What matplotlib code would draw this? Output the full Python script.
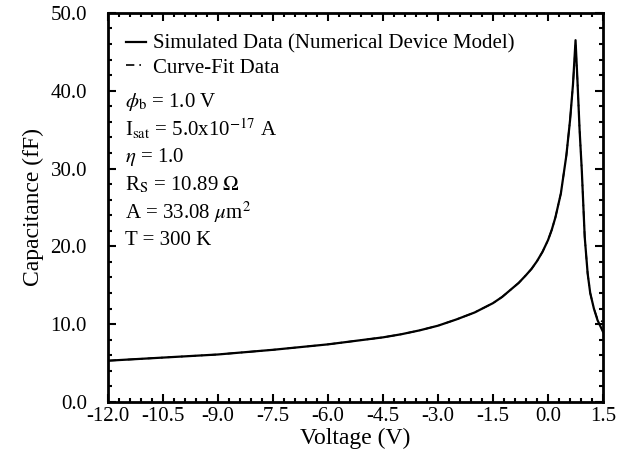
import numpy as np
import matplotlib.pyplot as plt
from matplotlib.ticker import MultipleLocator

plt.rcParams['font.family'] = ['Liberation Serif', 'DejaVu Serif']
plt.rcParams['mathtext.fontset'] = 'stix'

# simulated C-V curve
v_sim = [-12.0, -10.5, -9.0, -7.5, -6.0, -4.5, -4.0, -3.5, -3.0, -2.5, -2.0, -1.5,
         -1.25, -1.0, -0.8, -0.6, -0.45, -0.3, -0.15, 0.0, 0.1, 0.2, 0.35, 0.5, 0.6,
         0.68, 0.75, 0.8, 0.86, 0.92, 1.0, 1.08, 1.15, 1.25, 1.35, 1.45, 1.5]
c_sim = [5.3, 5.7, 6.1, 6.7, 7.4, 8.3, 8.7, 9.2, 9.8, 10.6, 11.5, 12.7,
         13.5, 14.5, 15.3, 16.3, 17.1, 18.1, 19.3, 20.8, 22.1, 23.7, 26.8, 31.7, 36.2,
         40.8, 46.5, 41.5, 35.0, 29.8, 21.2, 16.5, 14.0, 12.0, 10.5, 9.5, 9.0]
# curve-fit data, mostly on top of the simulation
v_fit = [-12.0, -10.5, -9.0, -7.5, -6.0, -4.5, -4.0, -3.5, -3.0, -2.5, -2.0, -1.5,
         -1.25, -1.0, -0.8, -0.6, -0.45, -0.3, -0.15, 0.0, 0.1, 0.2, 0.35, 0.5, 0.6,
         0.68, 0.75, 0.8, 0.86, 0.92, 1.0, 1.08, 1.15, 1.25, 1.35, 1.5]
c_fit = [5.3, 5.7, 6.1, 6.7, 7.4, 8.3, 8.7, 9.2, 9.8, 10.6, 11.5, 12.7,
         13.5, 14.5, 15.3, 16.3, 17.1, 18.1, 19.3, 20.8, 22.1, 23.7, 26.8, 31.7, 36.2,
         40.8, 45.8, 41.5, 35.0, 29.8, 21.2, 16.5, 14.0, 12.0, 10.6, 10.3]

params = [r'$\phi_{\rm b}$ = 1.0 V',
          r'I$_{\rm sat}$ = 5.0x10$^{-17}$ A',
          r'$\eta$ = 1.0',
          r'R$_{\mathrm{S}}$ = 10.89 $\Omega$',
          r'A = 33.08 $\mu$m$^2$',
          'T = 300 K']

fig = plt.figure(figsize=(6.23, 4.62), dpi=100)
ax = fig.add_axes([0.173, 0.130, 0.795, 0.842])

ax.plot(v_sim, c_sim, color='k', lw=1.6, label='Simulated Data (Numerical Device Model)')
ax.plot(v_fit, c_fit, color='k', lw=1.2, ls=(0, (5, 3, 1, 3)), label='Curve-Fit Data')

ax.set_xlim(-12.0, 1.5)
ax.set_ylim(0, 50)
ax.set_xticks(np.arange(-12.0, 1.51, 1.5))
ax.set_xticklabels(['%.1f' % t for t in np.arange(-12.0, 1.51, 1.5)])
ax.set_yticks(np.arange(0, 51, 10))
ax.set_yticklabels(['%.1f' % t for t in np.arange(0, 51, 10)])
ax.xaxis.set_minor_locator(MultipleLocator(0.3))
ax.yaxis.set_minor_locator(MultipleLocator(2))
ax.tick_params(which='both', direction='in', top=True, right=True, labelsize=15, width=1.5)
ax.tick_params(which='major', length=6)
ax.tick_params(which='minor', length=3)
ax.tick_params(axis='x', which='major', pad=4)
ax.tick_params(axis='y', which='major', pad=15)
for s in ax.spines.values():
    s.set_linewidth(2)

ax.set_xlabel('Voltage (V)', fontsize=17, labelpad=1)
ax.set_ylabel('Capacitance (fF)', fontsize=17, labelpad=5)

ax.legend(loc='upper left', bbox_to_anchor=(0.036, 0.945), frameon=False, fontsize=15,
          handlelength=1.0, handletextpad=0.3, labelspacing=0.2,
          borderaxespad=0, borderpad=0)

for i, s in enumerate(params):
    ax.text(0.034, 0.772 - i * 0.0712, s, transform=ax.transAxes, fontsize=15,
            va='center', ha='left')

plt.savefig('out.png', dpi=100)
